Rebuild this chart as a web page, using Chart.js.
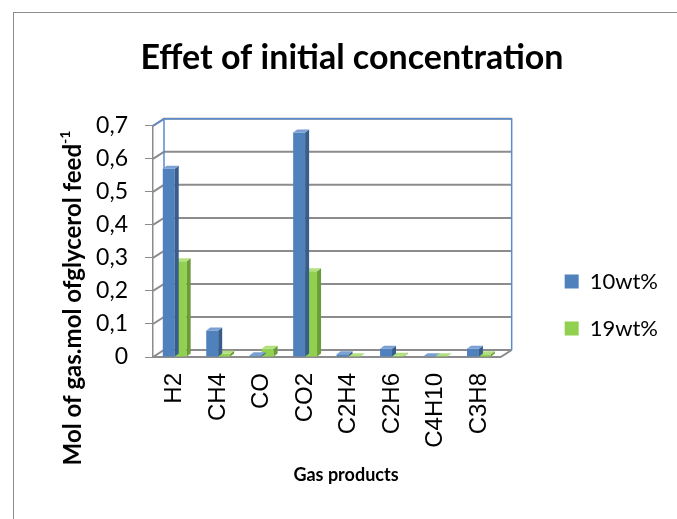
<!DOCTYPE html>
<html lang="en">
<head>
    <meta charset="utf-8">
    <title>Effet of initial concentration</title>
    <style>
        body { margin: 0; background: #fff; }
        .frame { position: absolute; left: 13px; top: 12px; width: 700px; height: 600px; border: 1.5px solid #8c8c8c; }
        .wrap { position: absolute; left: 0; top: 0; width: 677px; height: 519px; }
    </style>
</head>
<body>
    <div class="frame"></div>
    <div class="wrap"><canvas id="myChart" width="677" height="519"></canvas></div>

    <script src="https://cdn.jsdelivr.net/npm/chart.js@4.4.1/dist/chart.umd.min.js"></script>
    <script>
        // data
        const gases = ['H2', 'CH4', 'CO', 'CO2', 'C2H4', 'C2H6', 'C4H10', 'C3H8'];
        const wt10 = [0.57, 0.08, 0.005, 0.68, 0.008, 0.025, 0.002, 0.025];
        const wt19 = [0.29, 0.01, 0.025, 0.26, 0.002, 0.004, 0.002, 0.008];
        const yTicks = [0, 0.1, 0.2, 0.3, 0.4, 0.5, 0.6, 0.7];

        const CAL = 'Lato, "Open Sans", sans-serif';
        const DX = 11, DY = 7;   // depth of the walls
        const BX = 4, BY = 3;    // depth of the bars

        // fake 3d: back wall, grid, floor and the bar faces
        const depth3d = {
            id: 'depth3d',
            beforeDatasetsDraw(chart) {
                const { ctx, chartArea: a, scales: { y } } = chart;
                ctx.save();
                ctx.strokeStyle = '#8c8c8c';
                ctx.lineWidth = 2;
                yTicks.forEach(v => {
                    const py = y.getPixelForValue(v);
                    ctx.beginPath();
                    ctx.moveTo(a.left, py);
                    ctx.lineTo(a.left + DX, py - DY);
                    ctx.lineTo(a.right + DX, py - DY);
                    ctx.stroke();
                });
                // floor front edge
                ctx.beginPath();
                ctx.moveTo(a.left, a.bottom);
                ctx.lineTo(a.right, a.bottom);
                ctx.lineTo(a.right + DX, a.bottom - DY);
                ctx.stroke();
                // wall outline
                ctx.strokeStyle = '#5b8bd0';
                ctx.lineWidth = 1.5;
                ctx.beginPath();
                ctx.moveTo(a.left, a.top);
                ctx.lineTo(a.left + DX, a.top - DY);
                ctx.lineTo(a.right + DX, a.top - DY);
                ctx.lineTo(a.right + DX, a.bottom - DY);
                ctx.moveTo(a.left + DX, a.top - DY);
                ctx.lineTo(a.left + DX, a.bottom - DY);
                ctx.stroke();
                ctx.restore();
            },
            afterDatasetDraw(chart, args) {
                const ctx = chart.ctx;
                const ds = chart.data.datasets[args.index];
                ctx.save();
                args.meta.data.forEach(bar => {
                    const { x, y, base, width } = bar.getProps(['x', 'y', 'base', 'width'], true);
                    const l = x - width / 2, r = x + width / 2;
                    ctx.fillStyle = ds.sideColor;
                    ctx.beginPath();
                    ctx.moveTo(r, y);
                    ctx.lineTo(r + BX, y - BY);
                    ctx.lineTo(r + BX, base - BY);
                    ctx.lineTo(r, base);
                    ctx.closePath();
                    ctx.fill();
                    ctx.fillStyle = ds.topColor;
                    ctx.beginPath();
                    ctx.moveTo(l, y);
                    ctx.lineTo(l + BX, y - BY);
                    ctx.lineTo(r + BX, y - BY);
                    ctx.lineTo(r, y);
                    ctx.closePath();
                    ctx.fill();
                });
                ctx.restore();
            }
        };

        // axis titles placed like the excel ones (y has a real superscript)
        const axisTitles = {
            id: 'axisTitles',
            afterDraw(chart) {
                const ctx = chart.ctx;
                const main = 'Mol of gas.mol ofglycerol feed';
                const sup = '-1';
                ctx.save();
                ctx.fillStyle = '#000';
                ctx.textBaseline = 'middle';

                ctx.font = 'bold 18px ' + CAL;
                ctx.textAlign = 'center';
                ctx.fillText('Gas products', 346, 475);

                ctx.font = 'bold 24px ' + CAL;
                const w1 = ctx.measureText(main).width;
                ctx.font = 'bold 14px ' + CAL;
                const w2 = ctx.measureText(sup).width;
                ctx.translate(73, 298);
                ctx.rotate(-Math.PI / 2);
                ctx.textAlign = 'left';
                const x0 = -(w1 + w2) / 2;
                ctx.font = 'bold 24px ' + CAL;
                ctx.fillText(main, x0, 0);
                ctx.font = 'bold 14px ' + CAL;
                ctx.fillText(sup, x0 + w1, -8);
                ctx.restore();
            }
        };

        const ctx = document.getElementById('myChart').getContext('2d');
        const chart = new Chart(ctx, {
            type: 'bar',
            data: {
                labels: gases,
                datasets: [{
                    label: '10wt%',
                    data: wt10,
                    backgroundColor: '#4f81bd',
                    sideColor: '#385d8a',
                    topColor: '#7aa0d4'
                }, {
                    label: '19wt%',
                    data: wt19,
                    backgroundColor: '#92d050',
                    sideColor: '#6c9c38',
                    topColor: '#b2e07e'
                }]
            },
            options: {
                responsive: false,
                animation: false,
                layout: { padding: { left: 36, right: 9, top: 0, bottom: 20 } },
                datasets: { bar: { categoryPercentage: 0.55, barPercentage: 1 } },
                plugins: {
                    title: {
                        display: true,
                        text: 'Effet of initial concentration',
                        color: '#000',
                        font: { family: CAL, size: 34, weight: 'bold' },
                        padding: { top: 38, bottom: 47 }
                    },
                    legend: {
                        position: 'right',
                        title: { display: true, text: ' ', font: { size: 11 }, padding: { top: 98, bottom: 0 } },
                        labels: {
                            color: '#000',
                            font: { family: CAL, size: 22 },
                            boxWidth: 14,
                            boxHeight: 14,
                            padding: 25
                        }
                    },
                    tooltip: { enabled: false }
                },
                scales: {
                    x: {
                        grid: { display: false },
                        border: { display: false },
                        ticks: {
                            color: '#000',
                            font: { family: '"Liberation Sans", Arial, sans-serif', size: 24 },
                            minRotation: 90,
                            maxRotation: 90,
                            padding: 8
                        },
                        afterFit(scale) { scale.height = 519 - 20 - 357; }
                    },
                    y: {
                        min: 0,
                        max: 0.7,
                        afterBuildTicks(scale) { scale.ticks = yTicks.map(v => ({ value: v })); },
                        ticks: {
                            color: '#000',
                            font: { family: CAL, size: 23 },
                            padding: 17,
                            callback: v => v === 0 ? '0' : v.toFixed(1).replace('.', ',')
                        },
                        grid: { drawOnChartArea: false, tickLength: 8, color: '#8c8c8c' },
                        border: { color: '#8c8c8c', width: 1.5 },
                        afterFit(scale) { scale.width = 153 - 36; }
                    },
                    // empty space between the plot and the legend
                    gap: {
                        position: 'right',
                        display: false,
                        afterFit(scale) { scale.width = 39; }
                    }
                }
            },
            plugins: [depth3d, axisTitles]
        });
    </script>
</body>
</html>
